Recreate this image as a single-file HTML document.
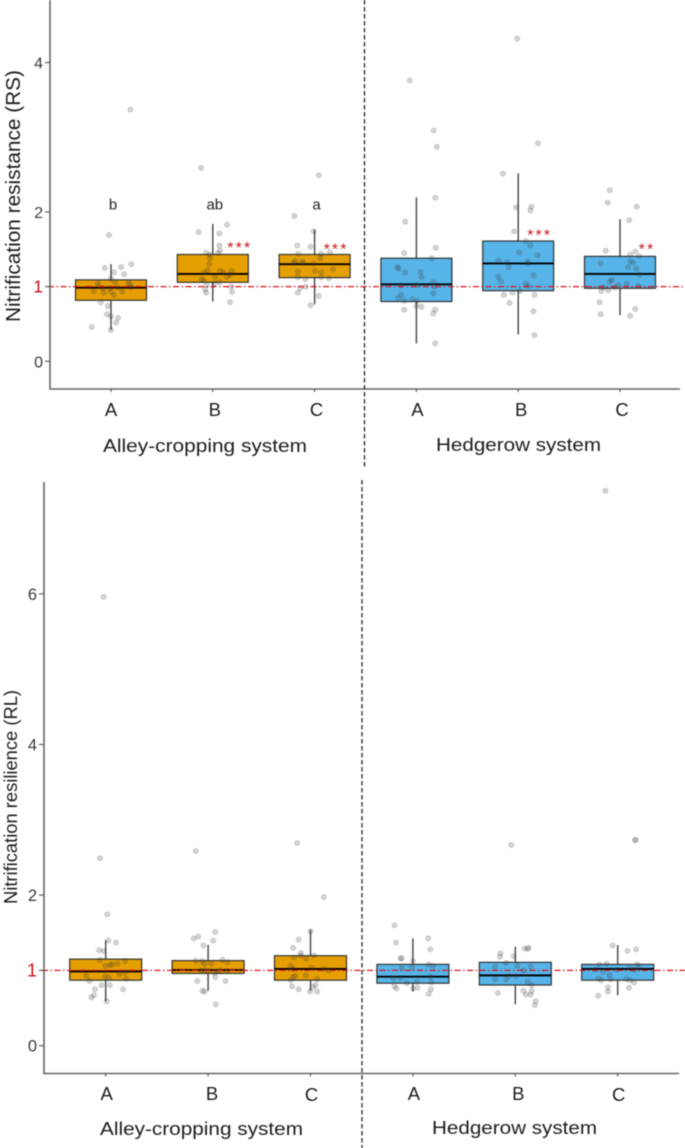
<!DOCTYPE html>
<html lang="en">
<head>
<meta charset="utf-8">
<title>Nitrification resistance and resilience</title>
<style>
html,body{margin:0;padding:0;background:#fff;width:685px;height:1148px;overflow:hidden}
svg{display:block;filter:blur(0.4px)}
text{font-family:"Liberation Sans",sans-serif}
</style>
</head>
<body>
<svg id="chart" xmlns="http://www.w3.org/2000/svg" width="685" height="1148" viewBox="0 0 685 1148"></svg>
<script>
const categories = ['A','B','C','A','B','C'];
const systemLabels = ['Alley-cropping system','Hedgerow system'];
const rsTicks = [0,1,2,4];
const rlTicks = [0,1,2,4,6];
const referenceValue = 1;

const rsQ1 = [0.817,1.058,1.12,0.80,0.945,0.977];
const rsMedian = [0.985,1.17,1.30,1.03,1.31,1.17];
const rsQ3 = [1.09,1.43,1.43,1.38,1.61,1.405];
const rsWhiskerLow = [0.42,0.80,0.763,0.24,0.36,0.616];
const rsWhiskerHigh = [1.30,1.84,1.76,2.195,2.517,1.90];
const rsLetters = ['b','ab','a'];
const rsLetterValue = 2.1;
const rsStars = ['','***','***','','***','**'];
const rsStarValues = [0,1.53,1.51,0,1.70,1.51];

const rlQ1 = [0.87,0.96,0.87,0.83,0.806,0.87];
const rlMedian = [0.987,1.005,1.02,0.916,0.934,1.02];
const rlQ3 = [1.15,1.13,1.195,1.08,1.107,1.08];
const rlWhiskerLow = [0.59,0.73,0.73,0.72,0.55,0.67];
const rlWhiskerHigh = [1.40,1.34,1.54,1.425,1.315,1.337];

/* individual samples: [value, horizontal jitter in category units] */
const rsAlleyA = [[3.37,.19],[1.69,-.02],[1.30,.20],[1.26,.10],[1.25,-.06],[1.19,.03],[1.165,.13],[1.11,0],[1.05,-.13],[1.06,.04],[1.05,.17],[1.03,.19],[.94,-.17],[1.01,-.12],[.98,-.08],[.98,-.01],[.99,.07],[.99,.20],[.92,-.07],[.93,0],[.89,.03],[.93,.11],[.79,-.10],[.74,-.03],[.63,-.04],[.60,0],[.58,.07],[.52,.05],[.46,-.19],[.42,0]];
const rsAlleyB = [[2.59,-.115],[1.73,-.14],[1.71,.065],[1.83,.14],[1.55,.065],[1.45,.05],[1.48,.07],[1.455,-.065],[1.43,-.03],[1.38,-.03],[1.30,-.035],[1.22,-.05],[1.19,-.085],[1.21,.07],[1.19,.105],[1.21,.185],[1.13,.02],[1.13,.14],[1.16,.17],[1.10,-.11],[1.08,-.09],[1.02,-.06],[1.04,.015],[1.06,.065],[1.0,.18],[.96,-.075],[.92,-.065],[.93,.19],[.79,.17]];
const rsAlleyC = [[2.49,.04],[1.945,-.20],[1.74,-.01],[1.55,-.17],[1.535,-.04],[1.44,-.16],[1.44,.065],[1.46,.15],[1.34,-.19],[1.335,-.125],[1.38,.055],[1.32,-.11],[1.20,-.165],[1.21,.005],[1.19,.065],[1.23,.18],[1.125,-.165],[1.10,-.09],[1.125,.065],[1.11,.14],[1.0,-.09],[.98,-.14],[.92,-.165],[.875,.04],[.75,-.04],[1.31,-.01],[1.32,-.205]];
const rsHedgeA = [[3.76,-.065],[3.09,.17],[2.87,.20],[2.19,.185],[1.87,-.11],[1.45,-.12],[1.52,.19],[1.38,.15],[1.26,-.185],[1.24,-.175],[1.19,-.11],[1.195,.04],[1.13,.05],[1.02,-.155],[1.06,.165],[1.0,.175],[.91,.165],[.89,-.15],[.85,-.18],[.83,-.04],[.81,-.12],[.81,.005],[.74,0],[.73,.05],[.69,-.12],[.69,.185],[.64,.165],[.24,.185],[1.02,.005]];
const rsHedgeB = [[4.32,-.01],[2.92,.195],[2.51,-.15],[2.07,.13],[2.06,-.02],[2.02,.12],[1.74,-.04],[1.61,.075],[1.55,.12],[1.455,.01],[1.42,.19],[1.35,-.195],[1.325,-.105],[1.34,.095],[1.26,-.095],[1.15,.15],[1.13,-.195],[1.07,-.17],[1.04,.075],[1.01,.10],[.92,-.055],[.94,.015],[.89,-.14],[.89,.16],[.78,-.085],[.67,.15],[.35,.16],[1.31,.095]];
const rsHedgeC = [[2.29,-.10],[2.125,-.12],[2.07,.165],[1.89,.09],[1.48,-.14],[1.47,.15],[1.43,.10],[1.41,.19],[1.31,-.19],[1.34,.10],[1.32,.13],[1.26,.08],[1.24,.16],[1.16,.19],[1.09,-.08],[1.07,-.10],[1.04,.065],[1.02,-.015],[1.01,.18],[.99,-.05],[.99,-.165],[.95,-.115],[.94,-.185],[.79,-.20],[.70,.15],[.63,-.19],[.61,.10]];

const rlAlleyA = [[5.96,-.02],[2.49,-.055],[1.745,.015],[1.395,.025],[1.37,.10],[1.27,-.065],[1.257,-.02],[1.14,-.055],[1.125,.19],[1.08,.06],[1.09,.115],[1.06,-.005],[1.07,.04],[.93,-.19],[.92,-.005],[.90,.03],[.95,.135],[.97,.19],[.885,.20],[.86,-.16],[.805,-.04],[.805,.04],[.75,-.105],[.75,.17],[.67,-.115],[.64,-.14],[.59,.01]];
const rlAlleyB = [[2.585,-.12],[1.425,-.14],[1.45,-.095],[1.51,.07],[1.395,.05],[1.33,-.045],[1.13,-.12],[1.125,-.06],[1.085,-.035],[1.09,.03],[1.14,.14],[1.11,.19],[.995,-.07],[.99,0],[.98,.085],[.995,.185],[.91,.07],[.86,-.105],[.86,.17],[.73,-.055],[.72,-.035],[.55,.075],[1.0,.12],[.97,.06],[1.0,-.03]];
const rlAlleyC = [[2.69,-.13],[1.975,.13],[1.52,0],[1.41,-.115],[1.30,-.17],[1.235,-.095],[1.20,.035],[1.155,-.045],[1.17,-.16],[1.20,-.095],[1.06,-.195],[1.02,-.17],[1.035,.01],[1.02,.13],[1.0,.18],[.925,-.15],[.91,-.17],[.87,-.195],[.935,-.045],[.885,.065],[.805,.05],[.78,.025],[.79,-.18],[.75,-.115],[.72,-.005],[.72,.065]];
const rlHedgeA = [[1.60,-.18],[1.37,-.165],[1.425,.15],[1.28,.17],[1.16,-.12],[1.16,-.11],[1.125,0],[1.08,.155],[1.06,.195],[1.03,-.11],[1.04,-.01],[.89,-.19],[.90,-.125],[.83,-.06],[.85,.04],[.92,.17],[.84,.18],[.79,-.18],[.76,-.16],[.76,0],[.77,.045],[.75,.175],[.69,.155]];
const rlHedgeB = [[2.665,-.04],[1.226,-.145],[1.18,-.15],[1.19,-.015],[1.29,.09],[1.30,.13],[1.285,.12],[1.10,-.09],[1.06,.02],[1.05,-.195],[1.0,.08],[1.05,.15],[.885,-.195],[.88,-.09],[.925,-.06],[.925,.005],[.85,.12],[.73,.08],[.70,-.17],[.68,.105],[.73,.16],[.68,.15],[.805,.16],[.59,.2],[.54,.19]];
const rlHedgeC = [[7.37,-.12],[2.73,.17],[2.735,.175],[1.33,-.05],[1.26,.095],[1.28,.18],[1.08,-.18],[1.09,-.11],[1.08,.19],[1.01,-.22],[.98,-.145],[1.01,-.01],[1.03,.12],[1.01,.16],[1.03,.21],[.89,-.19],[.87,-.16],[.94,-.08],[.88,-.07],[.885,.085],[.87,.12],[.84,.16],[.775,-.095],[.72,-.095],[.77,.11],[.665,-.19]];

const rsSamples = [rsAlleyA,rsAlleyB,rsAlleyC,rsHedgeA,rsHedgeB,rsHedgeC];
const rlSamples = [rlAlleyA,rlAlleyB,rlAlleyC,rlHedgeA,rlHedgeB,rlHedgeC];

const NS = 'http://www.w3.org/2000/svg';
const svg = document.getElementById('chart');

function make(tag, attrs, parent, txt){
  const el = document.createElementNS(NS, tag);
  for (const k in attrs) el.setAttribute(k, attrs[k]);
  if (txt !== undefined) el.textContent = txt;
  (parent || svg).appendChild(el);
  return el;
}

function drawPanel(p){
  const g = make('g', {});
  
  
  const y = v => p.y0 - p.yUnit * v;
  const x = i => p.x0 + p.xStep * i;
  const boxW = p.boxW;

  /* boxes */
  categories.forEach((c, i) => {
    const cx = x(i);
    const fill = i < 3 ? '#E69F00' : '#56B4E9';
    const whisker = make('line', {x1:cx, x2:cx, y1:y(p.wHigh[i]), y2:y(p.wLow[i]), stroke:'#444', 'stroke-width':1.4}, g);
    
    
    const box = make('rect', {x:cx - boxW/2, y:y(p.q3[i]), width:boxW, height:y(p.q1[i]) - y(p.q3[i]), fill:fill, stroke:'#333', 'stroke-width':1.2}, g);
    
    
    const median = make('line', {x1:cx - boxW/2, x2:cx + boxW/2, y1:y(p.median[i]), y2:y(p.median[i]), stroke:'#000', 'stroke-width':1.9}, g);
    
    
  });

  /* jittered samples */
  p.samples.forEach((list, i) => {
    list.forEach(pt => {
      const dot = make('circle', {cx:x(i) + pt[1] * p.xStep, cy:y(pt[0]), r:2.6, fill:'rgba(60,60,60,.22)', stroke:'rgba(60,60,60,.2)', 'stroke-width':0.8}, g);
      
      
    });
  });

  /* reference line */
  const ref = make('line', {x1:p.axisX - 2, x2:685, y1:y(referenceValue), y2:y(referenceValue), stroke:'#d8141c', 'stroke-width':1.2, 'stroke-dasharray':'6 2.5 1.5 2.5'}, g);
  
  

  /* axes */
  const yAxis = make('line', {x1:p.axisX, x2:p.axisX, y1:p.axisTop, y2:p.axisBottom + .7, stroke:'#666', 'stroke-width':1.6}, g);
  
  
  const xAxis = make('line', {x1:p.axisX, x2:p.axisRight, y1:p.axisBottom, y2:p.axisBottom, stroke:'#666', 'stroke-width':1.6}, g);
  
  

  p.ticks.forEach(t => {
    const tick = make('line', {x1:p.axisX - 5, x2:p.axisX, y1:y(t), y2:y(t), stroke:'#555', 'stroke-width':1.1}, g);
    
    
    const isRef = t === referenceValue;
    const lab = make('text', {x:p.axisX - 7, y:y(t) + 6, 'text-anchor':'end', 'font-size':isRef ? p.tickFont + 1.5 : p.tickFont, fill:isRef ? '#c8141c' : '#3a3a3a'}, g, String(t));
    
    
  });

  categories.forEach((c, i) => {
    const tick = make('line', {x1:x(i), x2:x(i), y1:p.axisBottom, y2:p.axisBottom + 3, stroke:'#555', 'stroke-width':1.1}, g);
    
    
    const lab = make('text', {x:x(i) + p.catNudge[i], y:p.catBaseline + (p.catDrop ? p.catDrop[i] : 0), 'text-anchor':'middle', 'font-size':18.5, fill:'#1c1c1c'}, g, c);
    
    
  });

  systemLabels.forEach((s, i) => {
    const span = p.systemSpans[i];
    const lab = make('text', {x:span[0], y:span[2], textLength:span[1] - span[0], lengthAdjust:'spacingAndGlyphs', 'font-size':18.5, fill:'#1c1c1c'}, g, s);
    
    
  });

  const title = make('text', {x:0, y:0, transform:'translate(' + p.titleX + ',' + p.titleBottom + ') rotate(-90)', textLength:p.titleLen, lengthAdjust:'spacingAndGlyphs', 'font-size':p.titleFont, fill:'#1c1c1c'}, g, p.title);
  
  

  /* divider */
  const divider = make('line', {x1:p.divX, x2:p.divX, y1:p.divTop, y2:p.divBottom, stroke:'#222', 'stroke-width':1.3, 'stroke-dasharray':'4.5 2.5'}, g);
  
  

  return {x, y, g};
}

const top_ = drawPanel({
  key:'resistance', title:'Nitrification resistance (RS)',
  y0:361.3, yUnit:74.7, x0:111, xStep:101.8, boxW:71,
  axisX:50, axisTop:0, axisBottom:389, axisRight:680,
  ticks:rsTicks, tickFont:16, catBaseline:416, catNudge:[0,2,2,1,3,2],
  q1:rsQ1, q3:rsQ3, median:rsMedian, wLow:rsWhiskerLow, wHigh:rsWhiskerHigh, samples:rsSamples,
  systemSpans:[[103,307,452],[436,601,451]],
  titleX:20, titleBottom:322, titleLen:252, titleFont:20,
  divX:364.5, divTop:0, divBottom:468
});

const bottom_ = drawPanel({
  key:'resilience', title:'Nitrification resilience (RL)',
  y0:1045.7, yUnit:75.3, x0:105.7, xStep:102.4, boxW:72,
  axisX:44, axisTop:482, axisBottom:1073.5, axisRight:679,
  ticks:rlTicks, tickFont:16.5, catBaseline:1100, catNudge:[1,4,1,1,3,1], catDrop:[0,0,1,0,0,1],
  q1:rlQ1, q3:rlQ3, median:rlMedian, wLow:rlWhiskerLow, wHigh:rlWhiskerHigh, samples:rlSamples,
  systemSpans:[[100,303,1135],[432,597,1134]],
  titleX:17, titleBottom:904, titleLen:214, titleFont:18,
  divX:362, divTop:480, divBottom:1148
});

/* resistance panel annotations */
rsLetters.forEach((s, i) => {
  const t = make('text', {x:top_.x(i) + 2, y:top_.y(rsLetterValue) + 5, 'text-anchor':'middle', 'font-size':15, fill:'#1c1c1c'}, top_.g, s);
  
  
});
const starNudge = [0,27,21.5,0,21.5,27];
rsStars.forEach((s, i) => {
  if (!s) return;
  const t = make('text', {x:top_.x(i) + starNudge[i], y:top_.y(rsStarValues[i]) + 6, 'font-size':16, 'letter-spacing':'2.1px', fill:'#c8141c', 'text-anchor':'middle'}, top_.g, s);
  
  
});
</script>
</body>
</html>
